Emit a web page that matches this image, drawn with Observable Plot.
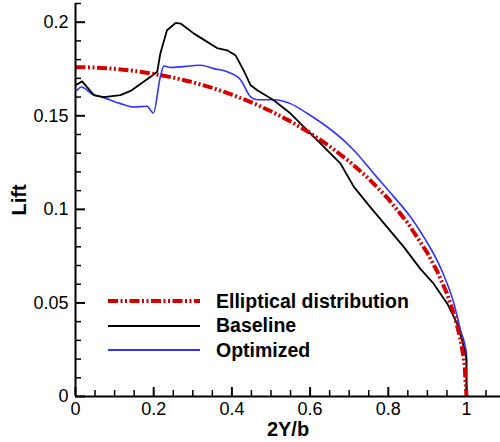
<!DOCTYPE html>
<html>
<head>
<meta charset="utf-8">
<script src="https://cdn.jsdelivr.net/npm/d3@7"></script>
<script src="https://cdn.jsdelivr.net/npm/@observablehq/plot@0.6"></script>
<style>
  body { margin: 0; background: #fff; font-family: "Liberation Sans", Arial, sans-serif; }
  #wrap { position: relative; width: 500px; height: 442px; }
  #legend { position: absolute; left: 108px; top: 289px; font-weight: bold; font-size: 19.5px; color: #000; }
  #legend .row { display: flex; align-items: center; height: 24.5px; }
  #legend svg { width: 92px; height: 8px; margin-right: 16px; }
</style>
</head>
<body>
<div id="wrap">
  <div id="chart"></div>
  <div id="legend"></div>
</div>
<script>
// Elliptical distribution
const ellX = [0, 0.05, 0.1, 0.15, 0.2, 0.25, 0.3, 0.35, 0.4, 0.45, 0.5, 0.55, 0.6, 0.65, 0.7, 0.75, 0.8, 0.85, 0.9, 0.925, 0.95, 0.97, 0.985, 0.995, 1.0];
const ellY = [0.1760, 0.1758, 0.1751, 0.1740, 0.1724, 0.1704, 0.1679, 0.1649, 0.1613, 0.1572, 0.1524, 0.1470, 0.1408, 0.1337, 0.1257, 0.1164, 0.1056, 0.0927, 0.0767, 0.0669, 0.0550, 0.0428, 0.0304, 0.0176, 0.0];

// Baseline
const baseX = [0, 0.017, 0.047, 0.072, 0.115, 0.141, 0.166, 0.192, 0.209, 0.217, 0.234, 0.256, 0.269, 0.303, 0.337, 0.362, 0.388, 0.409, 0.430, 0.448, 0.465, 0.507, 0.55, 0.593, 0.627, 0.678, 0.712, 0.754, 0.797, 0.840, 0.882, 0.916, 0.951, 0.976, 0.989, 0.997, 1.0, 1.0];
const baseY = [0.1663, 0.1684, 0.1610, 0.1600, 0.1610, 0.1633, 0.1670, 0.1708, 0.1735, 0.1833, 0.1957, 0.1996, 0.1993, 0.1939, 0.1895, 0.1862, 0.1850, 0.1824, 0.1743, 0.1663, 0.1636, 0.1583, 0.1512, 0.1422, 0.1351, 0.1244, 0.1120, 0.1012, 0.0905, 0.0798, 0.0682, 0.0603, 0.0496, 0.0389, 0.0300, 0.0228, 0.0200, 0.0015];

// Optimized
const optX = [0.004, 0.015, 0.043, 0.072, 0.115, 0.149, 0.183, 0.199, 0.217, 0.226, 0.243, 0.320, 0.354, 0.388, 0.422, 0.448, 0.465, 0.507, 0.55, 0.593, 0.644, 0.686, 0.712, 0.763, 0.814, 0.857, 0.891, 0.935, 0.968, 0.985, 1.0, 1.0];
const optY = [0.1636, 0.1654, 0.1615, 0.1597, 0.1565, 0.1547, 0.1551, 0.1515, 0.1708, 0.1766, 0.1758, 0.1770, 0.1752, 0.1735, 0.1693, 0.1601, 0.1586, 0.1586, 0.1565, 0.1512, 0.1440, 0.1369, 0.1316, 0.1191, 0.1068, 0.0959, 0.0852, 0.0682, 0.0496, 0.0353, 0.0228, 0.0015];

const seriesNames = ["Elliptical distribution", "Baseline", "Optimized"];
const seriesColors = ["#d40000", "#000000", "#3333ff"];

const xMajor = [0, 0.2, 0.4, 0.6, 0.8, 1.0];
const xTickLabels = ["0", "0.2", "0.4", "0.6", "0.8", "1"];
const xMinor = [0.05, 0.1, 0.15, 0.25, 0.3, 0.35, 0.45, 0.5, 0.55, 0.65, 0.7, 0.75, 0.85, 0.9, 0.95, 1.05];
const yMajor = [0, 0.05, 0.1, 0.15, 0.2];
const yTickLabels = ["0", "0.05", "0.1", "0.15", "0.2"];
const yMinor = [0.01, 0.02, 0.03, 0.04, 0.06, 0.07, 0.08, 0.09, 0.11, 0.12, 0.13, 0.14, 0.16, 0.17, 0.18, 0.19, 0.21];

const xTitle = "2Y/b";
const yTitle = "Lift";

const toRows = (xs, ys) => xs.map((x, i) => ({x, y: ys[i]}));
const ell = toRows(ellX, ellY);
const base = toRows(baseX, baseY);
const opt = toRows(optX, optY);

const dash = "10,2.5,2,2.5,2,2.5";

const W = 500, H = 442, ML = 75, MR = 0, MT = 3, MB = 46;
const frameW = W - ML - MR, frameH = H - MT - MB;

const chart = Plot.plot({
  width: W,
  height: H,
  marginLeft: ML,
  marginRight: MR,
  marginTop: MT,
  marginBottom: MB,
  style: {fontFamily: "'Liberation Sans', Arial, sans-serif", fontSize: "18px", color: "#000", background: "#fff"},
  x: {domain: [0, 1.087]},
  y: {domain: [0, 0.21]},
  marks: [
    // inward ticks (minor and major): short ticks at the frame's bottom / left edge
    Plot.tickX(xMinor, {x: d => d, insetTop: frameH - 6, strokeWidth: 1.5, stroke: "#000"}),
    Plot.tickX(xMajor, {x: d => d, insetTop: frameH - 9, strokeWidth: 2, stroke: "#000"}),
    Plot.tickY(yMinor, {y: d => d, insetRight: frameW - 6, strokeWidth: 1.5, stroke: "#000"}),
    Plot.tickY(yMajor, {y: d => d, insetRight: frameW - 10, strokeWidth: 2, stroke: "#000"}),
    // tick labels
    Plot.axisX(xMajor, {tickSize: 0, tickPadding: 6, tickFormat: (d, i) => xTickLabels[i], label: null, fontSize: 18}),
    Plot.axisY(yMajor, {tickSize: 0, tickPadding: 7, tickFormat: (d, i) => yTickLabels[i], label: null, fontSize: 18}),
    // series
    Plot.line(opt, {x: "x", y: "y", stroke: seriesColors[2], strokeWidth: 1.6, curve: "monotone-x"}),
    Plot.line(base, {x: "x", y: "y", stroke: seriesColors[1], strokeWidth: 1.8, curve: "linear"}),
    Plot.line(ell, {x: "x", y: "y", stroke: seriesColors[0], strokeWidth: 4, strokeDasharray: dash, strokeLinecap: "butt", strokeLinejoin: "miter", curve: "linear"}),
    // axis lines
    Plot.ruleX([0], {strokeWidth: 2}),
    Plot.ruleY([0], {strokeWidth: 2}),
    // axis titles
    Plot.text([xTitle], {frameAnchor: "bottom", dy: 33, lineAnchor: "middle", fontWeight: "bold", fontSize: 20}),
    Plot.text([yTitle], {frameAnchor: "left", dx: -56, rotate: -90, lineAnchor: "middle", textAnchor: "middle", fontWeight: "bold", fontSize: 20})
  ]
});
document.getElementById("chart").appendChild(chart);

// Legend
const legend = document.getElementById("legend");
const styles = [
  {w: 4, dash: dash},
  {w: 2, dash: null},
  {w: 2, dash: null}
];
seriesNames.forEach((name, i) => {
  const row = document.createElement("div");
  row.className = "row";
  const ns = "http://www.w3.org/2000/svg";
  const svg = document.createElementNS(ns, "svg");
  svg.setAttribute("viewBox", "0 0 92 8");
  const ln = document.createElementNS(ns, "line");
  ln.setAttribute("x1", 0); ln.setAttribute("x2", 92);
  ln.setAttribute("y1", 4); ln.setAttribute("y2", 4);
  ln.setAttribute("stroke", seriesColors[i]);
  ln.setAttribute("stroke-width", styles[i].w);
  if (styles[i].dash) ln.setAttribute("stroke-dasharray", styles[i].dash);
  svg.appendChild(ln);
  const span = document.createElement("span");
  span.textContent = name;
  row.appendChild(svg);
  row.appendChild(span);
  legend.appendChild(row);
});
</script>
</body>
</html>
